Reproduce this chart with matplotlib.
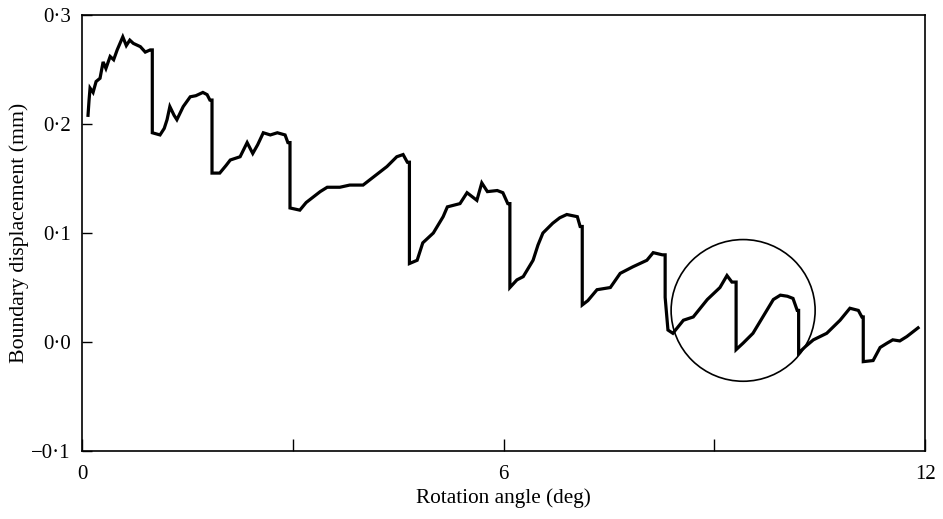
import matplotlib
matplotlib.use("Agg")
import matplotlib.pyplot as plt
from matplotlib.patches import Ellipse

plt.rcParams['font.family'] = ['Liberation Serif', 'DejaVu Serif']

# rotation angle (deg) and boundary displacement (mm)
angle = [0.085, 0.10, 0.114, 0.157, 0.20, 0.256, 0.30, 0.34, 0.40, 0.45, 0.50, 0.58, 0.63, 0.68, 0.73, 0.83, 0.90, 0.97, 1.00,
         1.00, 1.11, 1.17, 1.21, 1.25, 1.31, 1.35, 1.44, 1.54, 1.62, 1.72, 1.78, 1.82, 1.85,
         1.85, 1.96, 2.05, 2.11, 2.25, 2.35, 2.43, 2.50, 2.58, 2.68, 2.78, 2.89, 2.93, 2.96,
         2.96, 3.10, 3.19, 3.29, 3.39, 3.49, 3.67, 3.81, 4.00, 4.14, 4.24, 4.34, 4.48, 4.57, 4.63, 4.66,
         4.66, 4.77, 4.85, 5.00, 5.14, 5.20, 5.38, 5.48, 5.62, 5.69, 5.77, 5.91, 5.99, 6.06, 6.09,
         6.09, 6.19, 6.28, 6.42, 6.49, 6.56, 6.70, 6.80, 6.90, 7.05, 7.09, 7.12,
         7.12, 7.20, 7.33, 7.52, 7.66, 7.84, 8.04, 8.13, 8.26, 8.30,
         8.30, 8.34, 8.41, 8.56, 8.70, 8.80, 8.90, 9.08, 9.18, 9.25, 9.31,
         9.31, 9.41, 9.55, 9.69, 9.84, 9.94, 10.04, 10.12, 10.18, 10.20,
         10.20, 10.30, 10.41, 10.60, 10.79, 10.93, 11.05, 11.10, 11.12,
         11.12, 11.26, 11.36, 11.46, 11.54, 11.64, 11.74, 11.90]
displacement = [0.208, 0.222, 0.233, 0.229, 0.239, 0.242, 0.257, 0.251, 0.262, 0.259, 0.268, 0.280, 0.272, 0.277, 0.274, 0.271, 0.266, 0.268, 0.268,
                0.192, 0.190, 0.196, 0.204, 0.216, 0.208, 0.204, 0.216, 0.225, 0.226, 0.229, 0.227, 0.222, 0.222,
                0.155, 0.155, 0.162, 0.167, 0.170, 0.183, 0.173, 0.181, 0.192, 0.190, 0.192, 0.190, 0.183, 0.183,
                0.123, 0.121, 0.128, 0.133, 0.138, 0.142, 0.142, 0.144, 0.144, 0.151, 0.156, 0.161, 0.170, 0.172, 0.165, 0.165,
                0.072, 0.075, 0.091, 0.100, 0.115, 0.124, 0.127, 0.137, 0.130, 0.146, 0.138, 0.139, 0.137, 0.127, 0.127,
                0.050, 0.057, 0.060, 0.075, 0.089, 0.100, 0.109, 0.114, 0.117, 0.115, 0.106, 0.106,
                0.034, 0.038, 0.048, 0.050, 0.063, 0.069, 0.075, 0.082, 0.080, 0.080,
                0.041, 0.011, 0.008, 0.020, 0.023, 0.031, 0.039, 0.050, 0.061, 0.055, 0.055,
                -0.007, -0.001, 0.008, 0.023, 0.039, 0.043, 0.042, 0.040, 0.029, 0.029,
                -0.010, -0.004, 0.002, 0.008, 0.020, 0.031, 0.029, 0.023, 0.023,
                -0.018, -0.017, -0.005, -0.001, 0.002, 0.001, 0.005, 0.013]

xticks = [0, 3, 6, 9, 12]
xticklabels = ['0', '', '6', '', '12']
yticks = [-0.1, 0.0, 0.1, 0.2, 0.3]
yticklabels = ['\u22120\u00b71', '0\u00b70', '0\u00b71', '0\u00b72', '0\u00b73']

fig = plt.figure(figsize=(9.43, 5.19), dpi=100)
ax = fig.add_axes([0.087, 0.131, 0.894, 0.840])

ax.plot(angle, displacement, color='black', lw=2.3, solid_joinstyle='miter')

# circle marking the highlighted region
ax.add_patch(Ellipse((9.41, 0.029), 2.05, 0.130, fill=False, edgecolor='black', lw=1.2))

ax.set_xlim(0, 12)
ax.set_ylim(-0.1, 0.3)
ax.set_xticks(xticks)
ax.set_xticklabels(xticklabels)
ax.set_yticks(yticks)
ax.set_yticklabels(yticklabels)
ax.tick_params(axis='x', direction='in', length=9, width=1, labelsize=15, pad=10)
ax.tick_params(axis='y', direction='in', length=7, width=1, labelsize=15, pad=8)
for s in ax.spines.values():
    s.set_linewidth(1.2)

ax.set_xlabel('Rotation angle (deg)', fontsize=15.3, labelpad=3)
ax.set_ylabel('Boundary displacement (mm)', fontsize=15.7, labelpad=2)

fig.savefig('out.png', dpi=100)
